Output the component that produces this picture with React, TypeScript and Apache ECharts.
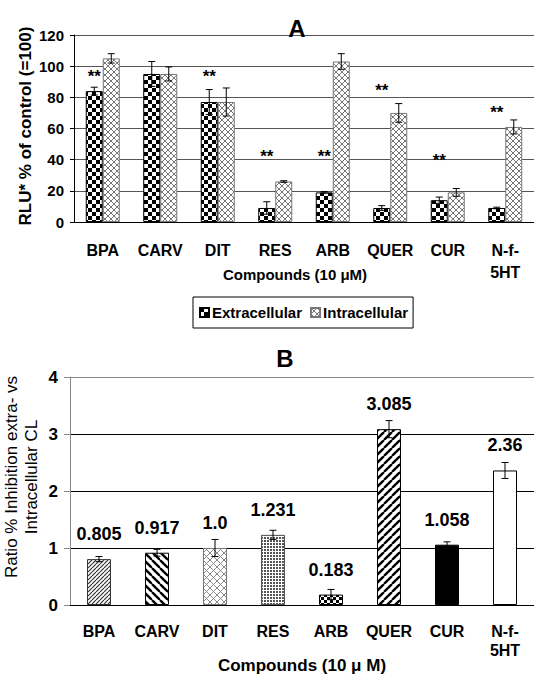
import React, { useEffect, useRef } from "react";
import * as echarts from "echarts";

// ---------- data ----------
const categories = ["BPA", "CARV", "DIT", "RES", "ARB", "QUER", "CUR", "N-f-\n5HT"];

const extracellular = [84, 95, 77, 9, 19, 9, 14, 9];
const extracellularErr = [2.5, 8, 8, 4, 0.5, 1.5, 2, 0.5];
const intracellular = [105, 95, 77, 26, 103, 70, 19, 61];
const intracellularErr = [3, 4.5, 9, 0.5, 5, 6, 2.5, 4.5];
// value (in % of control) where the "**" significance marks sit, null = none
const significance = [95.5, null, 95.5, 44, 44, 86.5, 41.5, 72.5];

const ratio = [0.805, 0.917, 1.0, 1.231, 0.183, 3.085, 1.058, 2.36];
const ratioErr = [0.045, 0.06, 0.15, 0.08, 0.09, 0.15, 0.05, 0.14];
const ratioLabels = ["0.805", "0.917", "1.0", "1.231", "0.183", "3.085", "1.058", "2.36"];

const yTicksA = { min: 0, max: 120, interval: 20 };
const yTicksB = { min: 0, max: 4, interval: 1 };

const FONT = "'Liberation Sans', Arial, sans-serif";

// ---------- patterns ----------
function tile(size: number, draw: (c: CanvasRenderingContext2D, s: number) => void) {
  const cv = document.createElement("canvas");
  cv.width = size;
  cv.height = size;
  const c = cv.getContext("2d")!;
  c.fillStyle = "#fff";
  c.fillRect(0, 0, size, size);
  draw(c, size);
  return { image: cv.toDataURL(), repeat: "repeat", imageWidth: size, imageHeight: size } as any;
}
function checker(cell: number, color = "#000") {
  return tile(cell * 2, (c) => {
    c.fillStyle = color;
    c.fillRect(0, 0, cell, cell);
    c.fillRect(cell, cell, cell, cell);
  });
}
function diag(size: number, dir: "/" | "\\", color: string, lw: number) {
  return tile(size, (c, s) => {
    c.strokeStyle = color;
    c.lineWidth = lw;
    for (let k = -1; k <= 1; k++) {
      c.beginPath();
      if (dir === "/") {
        c.moveTo(k * s, s);
        c.lineTo(k * s + s, 0);
      } else {
        c.moveTo(k * s, 0);
        c.lineTo(k * s + s, s);
      }
      c.stroke();
    }
  });
}
function cross(size: number, color: string) {
  return tile(size, (c, s) => {
    c.strokeStyle = color;
    c.lineWidth = 1;
    for (let k = -1; k <= 1; k++) {
      c.beginPath();
      c.moveTo(k * s, s);
      c.lineTo(k * s + s, 0);
      c.moveTo(k * s, 0);
      c.lineTo(k * s + s, s);
      c.stroke();
    }
  });
}
function dots(size: number, dot: number, color: string) {
  return tile(size, (c) => {
    c.fillStyle = color;
    c.fillRect(0, 0, dot, dot);
  });
}

function errorRenderer(offset: number, cap: number) {
  return (params: any, api: any) => {
    const i = api.value(0);
    const v = api.value(1);
    const e = api.value(2);
    const top = api.coord([i, v + e]);
    const bot = api.coord([i, v - e]);
    const cx = top[0] + offset;
    const st = { stroke: "#000", lineWidth: 1 };
    return {
      type: "group",
      children: [
        { type: "line", shape: { x1: cx, y1: top[1], x2: cx, y2: bot[1] }, style: st },
        { type: "line", shape: { x1: cx - cap / 2, y1: top[1], x2: cx + cap / 2, y2: top[1] }, style: st },
        { type: "line", shape: { x1: cx - cap / 2, y1: bot[1], x2: cx + cap / 2, y2: bot[1] }, style: st },
      ],
    };
  };
}

export default function App() {
  const ref = useRef<HTMLDivElement>(null);

  useEffect(() => {
    if (!ref.current) return;
    const chart = echarts.init(ref.current, null, { renderer: "svg" });

    const BAR_A = 17;
    const BAR_B = 24;

    const extPat = checker(4);
    const intPat = cross(6, "#777");

    const bStyles = [
      { color: diag(4, "/", "#333", 1.2), borderColor: "#333" },
      { color: diag(8, "\\", "#000", 2.4), borderColor: "#000" },
      { color: cross(7, "#888"), borderColor: "#777" },
      { color: dots(3, 2, "#555"), borderColor: "#555" },
      { color: checker(3), borderColor: "#000" },
      { color: diag(8, "/", "#000", 2.4), borderColor: "#000" },
      { color: "#000", borderColor: "#000" },
      { color: "#fff", borderColor: "#000" },
    ];

    const tickLabel = { fontFamily: FONT, fontWeight: "bold", color: "#000" };

    const option: any = {
      animation: false,
      backgroundColor: "#fff",
      grid: [
        { left: 74, top: 35, width: 464, height: 187 },
        { left: 70, top: 377, width: 465, height: 228 },
      ],
      title: [
        { text: "A", left: 292, top: 23, textAlign: "center", textVerticalAlign: "middle",
          textStyle: { fontFamily: FONT, fontWeight: "bold", fontSize: 24, color: "#000" } },
      ],
      legend: {
        data: ["Extracellular", "Intracellular"],
        left: 193,
        top: 297,
        orient: "horizontal",
        borderColor: "#000",
        borderWidth: 1,
        padding: [8, 5, 8, 6],
        itemWidth: 9,
        itemHeight: 9,
        itemGap: 8,
        icon: "rect",
        textStyle: { fontFamily: FONT, fontWeight: "bold", fontSize: 15, color: "#000", padding: [0, 0, 0, -2] },
      },
      xAxis: [
        {
          type: "category",
          gridIndex: 0,
          data: categories,
          axisLine: { lineStyle: { color: "#000", width: 1 } },
          axisTick: { length: 6, lineStyle: { color: "#000" } },
          axisLabel: { ...tickLabel, fontSize: 16, margin: 17, lineHeight: 22, interval: 0 },
          name: "Compounds (10 μM)",
          nameLocation: "middle",
          nameGap: 45,
          nameMoveOverlap: false,
          nameTextStyle: { ...tickLabel, fontSize: 15, padding: [0, 18, 0, 0] },
        },
        {
          type: "category",
          gridIndex: 1,
          data: categories,
          axisLine: { lineStyle: { color: "#000", width: 1 } },
          axisTick: { length: 6, lineStyle: { color: "#000" } },
          axisLabel: { ...tickLabel, fontSize: 16, margin: 17, lineHeight: 19, interval: 0 },
          name: "Compounds (10 μ M)",
          nameLocation: "middle",
          nameGap: 52,
          nameMoveOverlap: false,
          nameTextStyle: { ...tickLabel, fontSize: 17 },
        },
      ],
      yAxis: [
        {
          type: "value",
          gridIndex: 0,
          ...yTicksA,
          axisLine: { show: true, lineStyle: { color: "#000" } },
          axisTick: { show: true, length: 4, lineStyle: { color: "#000" } },
          axisLabel: { ...tickLabel, fontSize: 15, margin: 10 },
          splitLine: { lineStyle: { color: "#555", width: 1 } },
        },
        {
          type: "value",
          gridIndex: 1,
          ...yTicksB,
          axisLine: { show: true, lineStyle: { color: "#888" } },
          axisTick: { show: true, length: 6, lineStyle: { color: "#888" } },
          axisLabel: { ...tickLabel, fontSize: 17, margin: 12 },
          splitLine: { lineStyle: { color: ["#000", "#000", "#000", "#000", "#888"], width: 1 } },
        },
      ],
      graphic: [
        {
          type: "text",
          x: 25,
          y: 126,
          rotation: Math.PI / 2,
          style: {
            text: "RLU* % of control (=100)",
            font: `bold 17px ${FONT}`,
            fill: "#000",
            align: "center",
            verticalAlign: "middle",
          },
        },
        {
          type: "text",
          x: 285,
          y: 358,
          style: {
            text: "B",
            font: `bold 24px ${FONT}`,
            fill: "#000",
            align: "center",
            verticalAlign: "middle",
          },
        },
        {
          type: "text",
          x: 21,
          y: 477,
          rotation: Math.PI / 2,
          style: {
            text: "Ratio % Inhibition extra- vs\nIntracellular CL",
            font: `17px ${FONT}`,
            lineHeight: 20,
            fill: "#000",
            align: "center",
            verticalAlign: "middle",
          },
        },
      ],
      series: [
        {
          name: "Extracellular",
          type: "bar",
          xAxisIndex: 0,
          yAxisIndex: 0,
          data: extracellular,
          barWidth: BAR_A,
          barGap: "0%",
          itemStyle: { color: extPat, borderColor: "#000", borderWidth: 1 },
        },
        {
          name: "Intracellular",
          type: "bar",
          xAxisIndex: 0,
          yAxisIndex: 0,
          data: intracellular,
          barWidth: BAR_A,
          barGap: "0%",
          itemStyle: { color: intPat, borderColor: "#777", borderWidth: 1 },
        },
        {
          type: "custom",
          xAxisIndex: 0,
          yAxisIndex: 0,
          z: 10,
          renderItem: errorRenderer(-BAR_A / 2, 7),
          data: extracellular.map((v, i) => [i, v, extracellularErr[i]]),
        },
        {
          type: "custom",
          xAxisIndex: 0,
          yAxisIndex: 0,
          z: 10,
          renderItem: errorRenderer(BAR_A / 2, 7),
          data: intracellular.map((v, i) => [i, v, intracellularErr[i]]),
        },
        {
          type: "custom",
          xAxisIndex: 0,
          yAxisIndex: 0,
          z: 10,
          renderItem: (params: any, api: any) => {
            const p = api.coord([api.value(0), api.value(1)]);
            return {
              type: "text",
              x: p[0] - BAR_A / 2,
              y: p[1] + 3,
              style: {
                text: "**",
                font: `bold 17px ${FONT}`,
                fill: "#000",
                align: "center",
                verticalAlign: "middle",
              },
            };
          },
          data: significance
            .map((v, i) => (v == null ? null : [i, v]))
            .filter((d) => d != null),
        },
        {
          type: "bar",
          xAxisIndex: 1,
          yAxisIndex: 1,
          barWidth: BAR_B,
          data: ratio.map((v, i) => ({
            value: v,
            itemStyle: { ...bStyles[i], borderWidth: 1 },
          })),
          label: {
            show: true,
            position: "top",
            distance: 16,
            formatter: (p: any) => ratioLabels[p.dataIndex],
            fontFamily: FONT,
            fontWeight: "bold",
            fontSize: 18,
            color: "#000",
          },
        },
        {
          type: "custom",
          xAxisIndex: 1,
          yAxisIndex: 1,
          z: 10,
          renderItem: errorRenderer(0, 7),
          data: ratio.map((v, i) => [i, v, ratioErr[i]]),
        },
      ],
    };

    chart.setOption(option);
    return () => chart.dispose();
  }, []);

  return (
    <div
      ref={ref}
      style={{ position: "absolute", left: 0, top: 0, width: 534, height: 675, background: "#fff" }}
    />
  );
}
